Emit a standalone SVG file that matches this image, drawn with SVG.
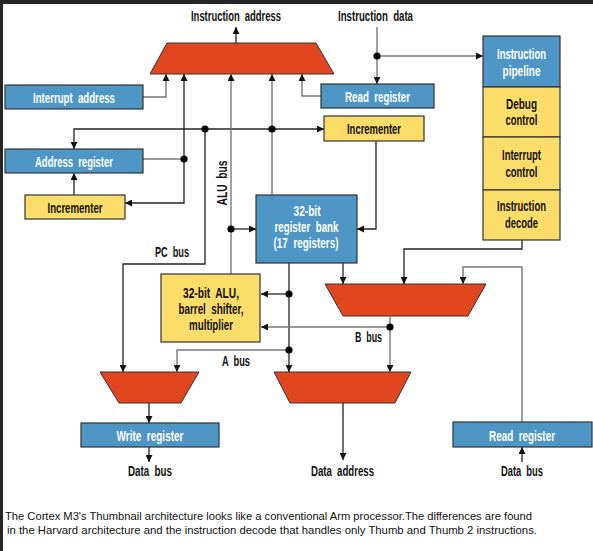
<svg xmlns="http://www.w3.org/2000/svg" width="593" height="551" viewBox="0 0 593 551">
  <style>
    .t { font-family: "Liberation Sans", Arial, sans-serif; font-size: 15px; font-weight: bold; fill: #111; text-anchor: middle; word-spacing: 4px; }
    .s { font-size: 14px; }
    .w { fill: #fff; }
    .cap { font-family: "Liberation Sans", Arial, sans-serif; font-size: 11.5px; fill: #111; }
    .blue { fill: #4d96c6; stroke: #333; stroke-width: 1.2; }
    .yel { fill: #fddd6a; stroke: #333; stroke-width: 1.2; }
    .mux { fill: #e2461f; stroke: #333; stroke-width: 1; }
    .ln { fill: none; stroke: #222; stroke-width: 1.3; }
    .lg { fill: none; stroke: #777; stroke-width: 1.4; }
    .arr { marker-end: url(#ah); }
    .dot { fill: #000; }
  </style>
  <defs>
    <marker id="ah" markerUnits="userSpaceOnUse" markerWidth="8" markerHeight="7" refX="7" refY="3.5" orient="auto">
      <path d="M0,0 L7,3.5 L0,7 z" fill="#111"/>
    </marker>
  </defs>

  <rect x="0" y="0" width="593" height="551" fill="#fff"/>
  <rect x="0" y="0" width="593" height="4" fill="#262626"/>
  <rect x="0" y="0" width="3" height="551" fill="#262626"/>

  <!-- multiplexers -->
  <g id="mux-instr"><polygon class="mux" points="167,43 316,43 334,74 150,74"/></g>
  <g id="mux-b"><polygon class="mux" points="325,284 486,284 468,316 343,316"/></g>
  <g id="mux-write"><polygon class="mux" points="100,372 199,372 181,403 119,403"/></g>
  <g id="mux-data"><polygon class="mux" points="274,372 411,372 395,403 290,403"/></g>

  <!-- connectors -->
  <g id="connectors">
    <path class="ln arr" d="M236,43 V27"/>
    <path class="lg arr" d="M377,27 V84"/>
    <path class="lg arr" d="M377,56 H483"/>
    <path class="lg arr" d="M321,96 H302 V74"/>
    <path class="lg arr" d="M143,97 H166 V74"/>
    <path class="ln arr" d="M205,129 H74 V149"/>
    <path class="ln arr" d="M205,129 H324"/>
    <path class="ln arr" d="M184,159 V74"/>
    <path class="ln arr" d="M184,159 V203 H125"/>
    <path class="lg" d="M143,159 H184"/>
    <path class="ln arr" d="M74,195 V173"/>
    <path class="ln arr" d="M205,129 V264 H123 V372"/>
    <path class="lg arr" d="M231,274 V74"/>
    <path class="ln arr" d="M231,229 H256"/>
    <path class="lg arr" d="M272,195 V74"/>
    <path class="ln arr" d="M376,141 V229 H357"/>
    <path class="ln arr" d="M522,240 V249 H404 V284"/>
    <path class="ln arr" d="M343,263 V284"/>
    <path class="lg arr" d="M522,422 V267 H463 V284"/>
    <path class="ln arr" d="M289,263 V372"/>
    <path class="ln arr" d="M289,294 H261"/>
    <path class="lg arr" d="M289,350 H177 V372"/>
    <path class="lg arr" d="M390,316 V372"/>
    <path class="lg arr" d="M390,327 H261"/>
    <path class="ln arr" d="M149,403 V423"/>
    <path class="ln arr" d="M149,447 V462"/>
    <path class="ln arr" d="M343,403 V460"/>
    <path class="ln arr" d="M522,462 V447"/>
    <circle class="dot" cx="377" cy="56" r="3.6"/>
    <circle class="dot" cx="205" cy="129" r="3.6"/>
    <circle class="dot" cx="272" cy="129" r="3.6"/>
    <circle class="dot" cx="184" cy="159" r="3.6"/>
    <circle class="dot" cx="231" cy="229" r="3.6"/>
    <circle class="dot" cx="289" cy="294" r="3.6"/>
    <circle class="dot" cx="289" cy="350" r="3.6"/>
    <circle class="dot" cx="390" cy="327" r="3.6"/>
  </g>

  <!-- nodes -->
  <g id="interrupt-address">
    <rect class="blue" x="5" y="85" width="138" height="24"/>
    <text class="t w" x="74" y="103" textLength="82" lengthAdjust="spacingAndGlyphs">Interrupt address</text>
  </g>
  <g id="read-register-top">
    <rect class="blue" x="321" y="84" width="113" height="24"/>
    <text class="t w" x="377.5" y="102" textLength="65" lengthAdjust="spacingAndGlyphs">Read register</text>
  </g>
  <g id="incrementer-top">
    <rect class="yel" x="324" y="116" width="100" height="25"/>
    <text class="t" x="374" y="134" textLength="54" lengthAdjust="spacingAndGlyphs">Incrementer</text>
  </g>
  <g id="address-register">
    <rect class="blue" x="5" y="149" width="138" height="24"/>
    <text class="t w" x="74" y="167" textLength="78" lengthAdjust="spacingAndGlyphs">Address register</text>
  </g>
  <g id="incrementer-left">
    <rect class="yel" x="25" y="195" width="100" height="24"/>
    <text class="t" x="75" y="213" textLength="55" lengthAdjust="spacingAndGlyphs">Incrementer</text>
  </g>
  <g id="instruction-pipeline">
    <rect class="blue" x="483" y="36" width="77" height="51"/>
    <text class="t w" x="521.5" y="59" textLength="49" lengthAdjust="spacingAndGlyphs">Instruction</text>
    <text class="t w" x="521.5" y="76" textLength="38" lengthAdjust="spacingAndGlyphs">pipeline</text>
  </g>
  <g id="debug-control">
    <rect class="yel" x="483" y="87" width="77" height="50"/>
    <text class="t" x="521.5" y="109" textLength="31" lengthAdjust="spacingAndGlyphs">Debug</text>
    <text class="t" x="521.5" y="125" textLength="32" lengthAdjust="spacingAndGlyphs">control</text>
  </g>
  <g id="interrupt-control">
    <rect class="yel" x="483" y="137" width="77" height="53"/>
    <text class="t" x="521.5" y="160" textLength="39" lengthAdjust="spacingAndGlyphs">Interrupt</text>
    <text class="t" x="521.5" y="177" textLength="32" lengthAdjust="spacingAndGlyphs">control</text>
  </g>
  <g id="instruction-decode">
    <rect class="yel" x="483" y="190" width="77" height="50"/>
    <text class="t" x="521.5" y="211" textLength="49" lengthAdjust="spacingAndGlyphs">Instruction</text>
    <text class="t" x="521.5" y="228" textLength="33" lengthAdjust="spacingAndGlyphs">decode</text>
  </g>
  <g id="register-bank">
    <rect class="blue" x="256" y="195" width="101" height="68"/>
    <text class="t s w" x="307" y="216" textLength="27" lengthAdjust="spacingAndGlyphs">32-bit</text>
    <text class="t s w" x="306.5" y="232" textLength="64" lengthAdjust="spacingAndGlyphs">register bank</text>
    <text class="t s w" x="306" y="248" textLength="65" lengthAdjust="spacingAndGlyphs">(17 registers)</text>
  </g>
  <g id="alu">
    <rect class="yel" x="161" y="274" width="99" height="68"/>
    <text class="t" x="211" y="298" textLength="56" lengthAdjust="spacingAndGlyphs">32-bit ALU,</text>
    <text class="t" x="211" y="314" textLength="65" lengthAdjust="spacingAndGlyphs">barrel shifter,</text>
    <text class="t" x="211" y="330" textLength="44" lengthAdjust="spacingAndGlyphs">multiplier</text>
  </g>
  <g id="write-register">
    <rect class="blue" x="81" y="423" width="138" height="24"/>
    <text class="t w" x="150" y="441" textLength="67" lengthAdjust="spacingAndGlyphs">Write register</text>
  </g>
  <g id="read-register-bottom">
    <rect class="blue" x="453" y="422" width="139" height="25"/>
    <text class="t w" x="522" y="441" textLength="66" lengthAdjust="spacingAndGlyphs">Read register</text>
  </g>

  <!-- bus and port labels -->
  <g id="labels">
    <text class="t" x="236" y="21" textLength="90" lengthAdjust="spacingAndGlyphs">Instruction address</text>
    <text class="t" x="375.5" y="21" textLength="75" lengthAdjust="spacingAndGlyphs">Instruction data</text>
    <text class="t" x="172" y="257" textLength="34" lengthAdjust="spacingAndGlyphs">PC bus</text>
    <text class="t" transform="translate(227,183) rotate(-90)" x="0" y="0" textLength="45" lengthAdjust="spacingAndGlyphs">ALU bus</text>
    <text class="t" x="236" y="366" textLength="28" lengthAdjust="spacingAndGlyphs">A bus</text>
    <text class="t" x="368.5" y="342" textLength="27" lengthAdjust="spacingAndGlyphs">B bus</text>
    <text class="t" x="150" y="476" textLength="44" lengthAdjust="spacingAndGlyphs">Data bus</text>
    <text class="t" x="342.5" y="476" textLength="63" lengthAdjust="spacingAndGlyphs">Data address</text>
    <text class="t" x="522" y="476" textLength="42" lengthAdjust="spacingAndGlyphs">Data bus</text>
  </g>

  <g id="caption">
    <text class="cap" x="5" y="520" textLength="527" lengthAdjust="spacingAndGlyphs">The Cortex M3's Thumbnail architecture looks like a conventional Arm processor.The differences are found</text>
    <text class="cap" x="7" y="534" textLength="530" lengthAdjust="spacingAndGlyphs">in the Harvard architecture and the instruction decode that handles only Thumb and Thumb 2 instructions.</text>
  </g>
</svg>
